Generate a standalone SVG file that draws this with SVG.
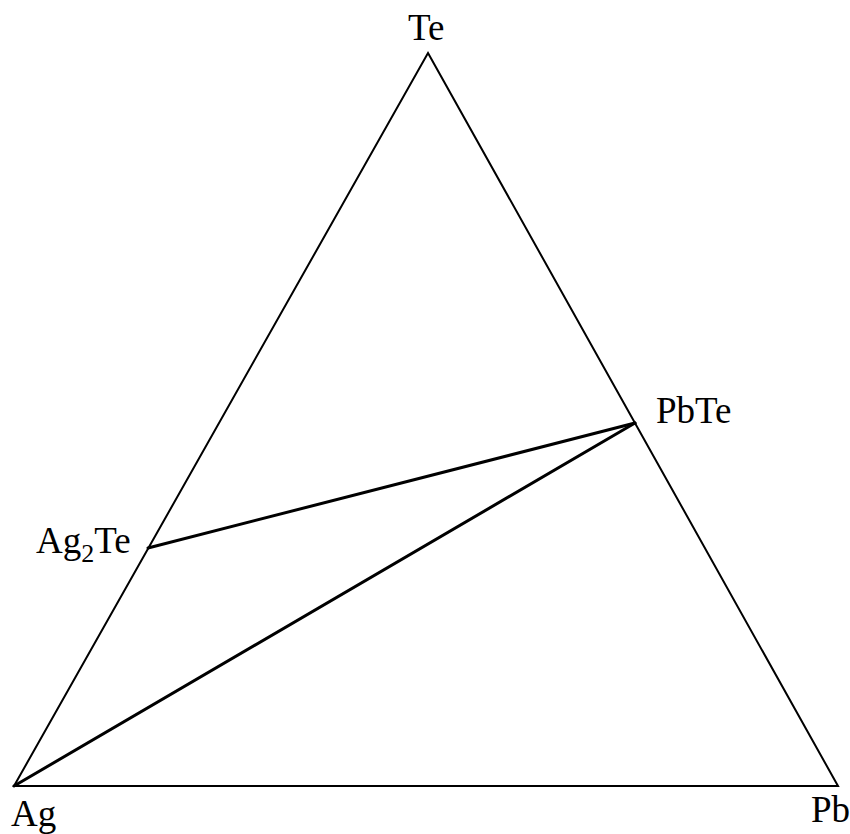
<svg xmlns="http://www.w3.org/2000/svg" width="850" height="834" viewBox="0 0 850 834">
<style>
.lbl{font-family:"Liberation Serif","Times New Roman",serif;font-size:37px;fill:#000}
.edge{stroke:#000;stroke-width:2;fill:none;stroke-linejoin:miter}
.tie{stroke:#000;stroke-width:3;fill:none;stroke-linecap:round}
</style>
<rect width="850" height="834" fill="#fff"/>
<g id="connectors">
<polygon class="edge" points="428,53 838,786 14,786"/>
<line class="tie" x1="148" y1="548" x2="635" y2="423"/>
<line class="tie" x1="14" y1="786" x2="635" y2="423"/>
</g>
<g id="node-Te"><text class="lbl" x="408" y="40">Te</text></g>
<g id="node-PbTe"><text class="lbl" x="656" y="423">PbTe</text></g>
<g id="node-Ag2Te"><text class="lbl" x="36" y="553">Ag<tspan font-size="26" dy="9">2</tspan><tspan dy="-9">Te</tspan></text></g>
<g id="node-Ag"><text class="lbl" x="11" y="826">Ag</text></g>
<g id="node-Pb"><text class="lbl" x="811" y="822">Pb</text></g>
</svg>
